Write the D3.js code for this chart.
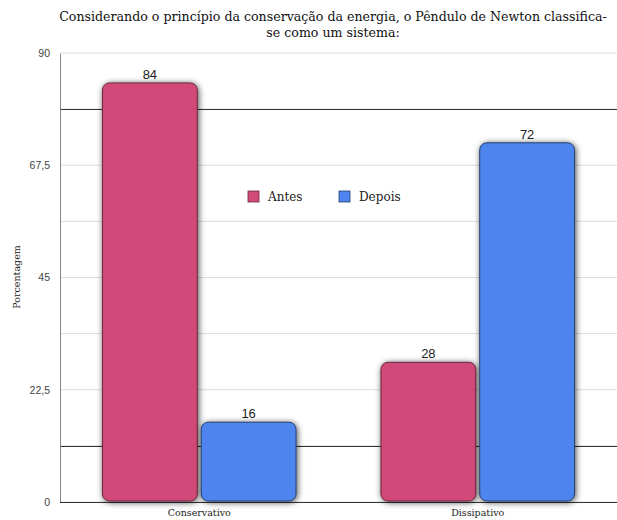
<!DOCTYPE html>
<html>
<head>
<meta charset="utf-8">
<script src="https://cdn.jsdelivr.net/npm/d3@7"></script>
<style>
	body { margin: 0; background: #fff; }
	svg { display: block; }
</style>
</head>
<body>
<div id="chart"></div>
<script>
const categories = ['Conservativo', 'Dissipativo'];
const seriesNames = ['Antes', 'Depois'];
const antes = [84, 28];
const depois = [16, 72];
const yTicks = [0, 22.5, 45, 67.5, 90];
const minorTicks = [11.25, 33.75, 56.25, 78.75];
const darkLines = [11.25, 78.75];
const colors = ['#d14a78', '#4d84ee'];
const borders = ['#6a2640', '#26406e'];

const W = 617, H = 520;
const margin = { top: 53, right: 0, bottom: 18, left: 60 };
const height = H - margin.top - margin.bottom;

const svg = d3.select('#chart').append('svg').attr('width', W).attr('height', H);

const defs = svg.append('defs');
const shadow = defs.append('filter').attr('id', 'shadow')
	.attr('x', '-20%').attr('y', '-20%').attr('width', '140%').attr('height', '140%');
shadow.append('feDropShadow')
	.attr('dx', 1).attr('dy', 1).attr('stdDeviation', 3)
	.attr('flood-color', '#000').attr('flood-opacity', 0.7);

const x0 = d3.scaleBand().domain(categories).range([margin.left, W - margin.right]).padding(0);
const x1 = d3.scaleBand().domain(seriesNames).range([0, x0.bandwidth()])
	.paddingInner(0.04).paddingOuter(0.43);
const y = d3.scaleLinear().domain([0, 90]).range([margin.top + height, margin.top]);

// light grid
svg.append('g').selectAll('line')
	.data(yTicks.concat(minorTicks))
	.join('line')
	.attr('x1', margin.left).attr('x2', W)
	.attr('y1', (d) => y(d)).attr('y2', (d) => y(d))
	.attr('stroke', '#dcdcdc').attr('stroke-width', 1);

// dark lines
svg.append('g').selectAll('line')
	.data(darkLines)
	.join('line')
	.attr('x1', margin.left).attr('x2', W)
	.attr('y1', (d) => Math.round(y(d)) + 0.5).attr('y2', (d) => Math.round(y(d)) + 0.5)
	.attr('stroke', '#333').attr('stroke-width', 1);

// y axis
const yAxis = svg.append('g')
	.attr('transform', `translate(${margin.left},0)`)
	.call(d3.axisLeft(y).tickValues(yTicks).tickSize(0).tickPadding(10)
		.tickFormat((d) => String(d).replace('.', ',')));
yAxis.select('.domain').attr('stroke', '#888');
yAxis.selectAll('text')
	.attr('font-family', 'Liberation Sans, Arial, sans-serif')
	.attr('font-size', 10.5).attr('fill', '#444');

// baseline
svg.append('line')
	.attr('x1', margin.left).attr('x2', W)
	.attr('y1', y(0) + 0.5).attr('y2', y(0) + 0.5)
	.attr('stroke', '#333');

// bars
const data = categories.map((c, i) => ({ cat: c, values: [antes[i], depois[i]] }));
const groups = svg.append('g').selectAll('g')
	.data(data)
	.join('g')
	.attr('transform', (d) => `translate(${x0(d.cat)},0)`);

groups.selectAll('rect')
	.data((d) => d.values.map((v, j) => ({ name: seriesNames[j], value: v, j })))
	.join('rect')
	.attr('x', (d) => x1(d.name))
	.attr('y', (d) => y(d.value))
	.attr('width', x1.bandwidth())
	.attr('height', (d) => y(0) - y(d.value) - 1)
	.attr('rx', 7).attr('ry', 7)
	.attr('fill', (d) => colors[d.j])
	.attr('stroke', (d) => borders[d.j])
	.attr('stroke-width', 1)
	.attr('filter', 'url(#shadow)');

groups.selectAll('text.val')
	.data((d) => d.values.map((v, j) => ({ name: seriesNames[j], value: v, j })))
	.join('text')
	.attr('class', 'val')
	.attr('x', (d) => x1(d.name) + x1.bandwidth() / 2)
	.attr('y', (d) => y(d.value) - 4)
	.attr('text-anchor', 'middle')
	.attr('font-family', 'Liberation Sans, Arial, sans-serif')
	.attr('font-size', 13)
	.attr('fill', '#222')
	.text((d) => d.value);

// category labels
svg.append('g').selectAll('text')
	.data(categories)
	.join('text')
	.attr('x', (d) => x0(d) + x0.bandwidth() / 2)
	.attr('y', 516)
	.attr('text-anchor', 'middle')
	.attr('font-family', 'DejaVu Serif, serif')
	.attr('font-size', 9.5)
	.attr('fill', '#222')
	.text((d) => d);

// axis title
svg.append('text')
	.attr('transform', 'rotate(-90)')
	.attr('x', -277).attr('y', 20)
	.attr('text-anchor', 'middle')
	.attr('font-family', 'DejaVu Serif, serif')
	.attr('font-size', 9.5)
	.attr('fill', '#222')
	.text('Porcentagem');

// title
const title = svg.append('text')
	.attr('text-anchor', 'middle')
	.attr('font-family', 'DejaVu Serif, serif')
	.attr('font-size', 12.6)
	.attr('fill', '#111');
title.append('tspan').attr('x', 333).attr('y', 21)
	.text('Considerando o princípio da conservação da energia, o Pêndulo de Newton classifica-');
title.append('tspan').attr('x', 333).attr('y', 37).text('se como um sistema:');

// legend
const legend = svg.append('g').selectAll('g')
	.data(seriesNames)
	.join('g')
	.attr('transform', (d, i) => `translate(${248 + i * 91},191)`);
legend.append('rect')
	.attr('width', 11).attr('height', 11)
	.attr('fill', (d, i) => colors[i])
	.attr('stroke', (d, i) => borders[i]).attr('stroke-width', 0.8);
legend.append('text')
	.attr('x', 20).attr('y', 10)
	.attr('font-family', 'DejaVu Serif, serif')
	.attr('font-size', 12)
	.attr('fill', '#222')
	.text((d) => d);
</script>
</body>
</html>
